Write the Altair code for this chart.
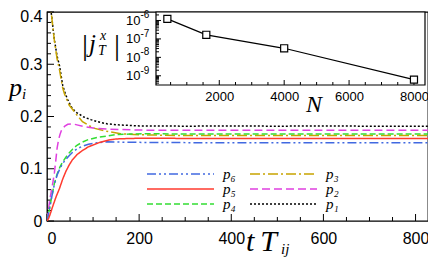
import altair as alt
import pandas as pd

# ---------------- data ----------------
t_p1 = [0, 4, 9, 16, 22, 27, 34, 40, 45, 55, 65, 80, 95, 110, 130, 155, 200, 300, 400, 500, 600, 700, 827]
v_p1 = [0.62, 0.50, 0.40, 0.347, 0.315, 0.298, 0.26, 0.243, 0.232, 0.215, 0.207, 0.199, 0.194, 0.19, 0.186, 0.184, 0.182, 0.1815, 0.1818, 0.1815, 0.1818, 0.1815, 0.1815]

t_p3 = [0, 4, 9, 16, 22, 27, 34, 38, 48, 63, 77, 100, 127, 160, 200, 300, 400, 500, 600, 700, 827]
v_p3 = [0.60, 0.49, 0.40, 0.345, 0.31, 0.29, 0.255, 0.243, 0.222, 0.205, 0.19, 0.178, 0.172, 0.167, 0.165, 0.1635, 0.1635, 0.1635, 0.1635, 0.1635, 0.1635]

t_p2 = [0, 3, 6, 10, 13, 16, 19, 22, 25, 28, 32, 38, 45, 55, 65, 80, 100, 130, 160, 200, 300, 400, 500, 600, 700, 827]
v_p2 = [0.0, 0.02, 0.04, 0.06, 0.075, 0.092, 0.115, 0.14, 0.155, 0.165, 0.175, 0.181, 0.185, 0.186, 0.184, 0.181, 0.178, 0.176, 0.175, 0.174, 0.1735, 0.1735, 0.1735, 0.1735, 0.1735, 0.1735]

t_p4 = [0, 3, 6, 10, 16, 22, 28, 34, 41, 48, 55, 65, 77, 90, 110, 134, 150, 180, 220, 300, 400, 500, 600, 700, 827]
v_p4 = [0.0, 0.012, 0.026, 0.045, 0.072, 0.09, 0.103, 0.113, 0.122, 0.13, 0.137, 0.145, 0.151, 0.156, 0.16, 0.163, 0.1655, 0.1665, 0.167, 0.1665, 0.1665, 0.1665, 0.1665, 0.1665, 0.1665]

t_p6 = [0, 3, 6, 10, 16, 22, 28, 34, 41, 48, 55, 65, 77, 90, 110, 130, 160, 200, 300, 400, 500, 600, 700, 827]
v_p6 = [0.0, 0.012, 0.026, 0.045, 0.07, 0.088, 0.1, 0.11, 0.118, 0.125, 0.131, 0.138, 0.143, 0.147, 0.15, 0.1515, 0.151, 0.1505, 0.150, 0.150, 0.150, 0.150, 0.150, 0.150]

t_p5 = [0, 4, 8, 12, 16, 20, 27, 34, 41, 48, 55, 65, 77, 90, 113, 134, 150, 180, 220, 300, 400, 500, 600, 700, 827]
v_p5 = [0.0, 0.006, 0.016, 0.027, 0.037, 0.047, 0.062, 0.08, 0.095, 0.107, 0.117, 0.127, 0.135, 0.142, 0.15, 0.155, 0.157, 0.158, 0.1585, 0.158, 0.158, 0.158, 0.158, 0.158, 0.158]

# legend order (column-major, 2 columns)
series_order = ["p₆", "p₅", "p₄", "p₃", "p₂", "p₁"]
series_colors = ["#4169e1", "#ff3b2f", "#33dd33", "#c8a400", "#e040e0", "#000000"]
series_dashes = [[9, 3, 2, 3, 2, 3], [1, 0], [6, 3], [10, 3, 2, 3], [8, 4], [2, 2]]

# inset data
N_vals = [400, 1600, 4000, 8000]
jT_vals = [1.23e-6, 1.67e-7, 3.1e-8, 6.2e-10]

# tick values
mx_major = [0, 200, 400, 600, 800]
mx_minor = [50, 100, 150, 250, 300, 350, 450, 500, 550, 650, 700, 750]
my_major = [0, 0.1, 0.2, 0.3, 0.4]
my_minor = [0.02, 0.04, 0.06, 0.08, 0.12, 0.14, 0.16, 0.18, 0.22, 0.24, 0.26, 0.28, 0.32, 0.34, 0.36, 0.38]
ix_major = [2000, 4000, 6000, 8000]
ix_minor = [500, 1000, 1500, 2500, 3000, 3500, 4500, 5000, 5500, 6500, 7000, 7500]
iy_major = [1e-6, 1e-7, 1e-8, 1e-9]
iy_exp = ["-6", "-7", "-8", "-9"]
iy_minor = [k * 10.0 ** e for e in (-10, -9, -8, -7, -6) for k in range(2, 10)
            if 10 ** -9.5 < k * 10.0 ** e < 10 ** -5.54]

rows = []
for name, ts, vs in [("p₁", t_p1, v_p1), ("p₃", t_p3, v_p3), ("p₂", t_p2, v_p2),
                     ("p₄", t_p4, v_p4), ("p₆", t_p6, v_p6), ("p₅", t_p5, v_p5)]:
    for t, v in zip(ts, vs):
        rows.append({"t": t, "p": v, "s": name})
df = pd.DataFrame(rows)

W, H = 381, 209
one = pd.DataFrame({"a": [0]})

# ---------------- main plot ----------------
xs = alt.Scale(domain=[0, 827], nice=False, zero=False)
ys = alt.Scale(domain=[0, 0.4], nice=False)

xaxis = alt.Axis(values=mx_major, ticks=False, domain=False, grid=False, title=None,
                 labelFont="Liberation Sans", labelFontSize=16, labelPadding=9,
                 labelColor="black", format="d")
yaxis = alt.Axis(values=my_major, ticks=False, domain=False, grid=False, title=None,
                 labelFont="Liberation Sans", labelFontSize=16, labelPadding=5,
                 labelColor="black",
                 labelExpr="datum.value == 0 ? '0' : format(datum.value, '.1f')",
                 labelOffset={"condition": {"test": "datum.value > 0.39", "value": 4}, "value": 0})

legend = alt.Legend(orient="none", legendX=99, legendY=155, columns=2, title=None,
                    symbolType="stroke", symbolSize=4489, symbolStrokeWidth=1.6,
                    clipHeight=14, rowPadding=-4, columnPadding=13, padding=0,
                    labelFont="Liberation Serif", labelFontStyle="italic",
                    labelFontSize=15, labelOffset=8, labelColor="black")

lines = alt.Chart(df).mark_line(clip=True, strokeWidth=1.5).encode(
    x=alt.X("t:Q", scale=xs, axis=xaxis),
    y=alt.Y("p:Q", scale=ys, axis=yaxis),
    color=alt.Color("s:N", scale=alt.Scale(domain=series_order, range=series_colors), legend=legend),
    strokeDash=alt.StrokeDash("s:N", scale=alt.Scale(domain=series_order, range=series_dashes), legend=legend),
)

def xticks(vals, scale, axis, y0, length):
    return alt.Chart(pd.DataFrame({"v": vals})).mark_rule(color="black", strokeWidth=1).encode(
        x=alt.X("v:Q", scale=scale, axis=axis), y=alt.value(y0), y2=alt.value(y0 - length))

def yticks(vals, scale, axis, x0, length):
    return alt.Chart(pd.DataFrame({"v": vals})).mark_rule(color="black", strokeWidth=1).encode(
        y=alt.Y("v:Q", scale=scale, axis=axis), x=alt.value(x0), x2=alt.value(x0 + length))

def txt(s, x, y, size, style="italic", align="left", font="Liberation Serif"):
    return alt.Chart(one).mark_text(text=s, fontSize=size, fontStyle=style, align=align,
                                    baseline="alphabetic", font=font, color="black").encode(
        x=alt.value(x), y=alt.value(y))

main = alt.layer(
    xticks(mx_major, xs, xaxis, H, 7), xticks(mx_minor, xs, xaxis, H, 4),
    yticks(my_major, ys, yaxis, 0, 7), yticks(my_minor, ys, yaxis, 0, 4),
    lines,
    txt("p", -38, 84, 26), txt("i", -25, 87, 15),
    txt("t\u2009T", 199, 239, 30), txt("ij", 234, 242, 15),
    txt("|", 38, 42.5, 30, style="normal", align="center"),
    txt("j", 42, 40, 25), txt("x", 53, 28, 14), txt("T", 51, 43, 14),
    txt("|", 70, 42.5, 30, style="normal", align="center"),
)

# ---------------- inset ----------------
ixs = alt.Scale(domain=[50, 8340], range=[109, 378], nice=False, zero=False)
iys = alt.Scale(type="log", domain=[10 ** -9.5, 10 ** -5.54], range=[73, 0], nice=False)

iaxis_x = alt.Axis(orient="bottom", offset=-(H - 73), values=ix_major, ticks=False, domain=False,
                   grid=False, title=None, labelFont="Liberation Sans", labelFontSize=13,
                   labelPadding=5, labelColor="black", zindex=2, format="d")
iaxis_y = alt.Axis(orient="left", offset=-109, values=iy_major, ticks=False, domain=False,
                   grid=False, title=None, labelFont="Liberation Sans", labelFontSize=13,
                   labelPadding=16, labelColor="black", labelExpr="'10'", zindex=2)

box = alt.Chart(pd.DataFrame({"x1": [50], "x2": [8340], "y1": [10 ** -9.5], "y2": [10 ** -5.54]})).mark_rect(
    fill="white", stroke="black", strokeWidth=1.2).encode(
    x=alt.X("x1:Q", scale=ixs, axis=iaxis_x), x2="x2:Q",
    y=alt.Y("y1:Q", scale=iys, axis=iaxis_y), y2="y2:Q")

idf = pd.DataFrame({"N": N_vals, "j": jT_vals})
iline = alt.Chart(idf).mark_line(color="black", strokeWidth=1.2).encode(
    x=alt.X("N:Q", scale=ixs, axis=iaxis_x), y=alt.Y("j:Q", scale=iys, axis=iaxis_y))
ipts = alt.Chart(idf).mark_square(size=50, fill="white", stroke="black", strokeWidth=1.2, opacity=1).encode(
    x=alt.X("N:Q", scale=ixs, axis=iaxis_x), y=alt.Y("j:Q", scale=iys, axis=iaxis_y))
iexp = alt.Chart(pd.DataFrame({"v": iy_major, "e": iy_exp})).mark_text(
    fontSize=10, align="left", baseline="middle", dy=-5, font="Liberation Sans", color="black").encode(
    y=alt.Y("v:Q", scale=iys, axis=iaxis_y), x=alt.value(93.5), text="e:N")

inset = alt.layer(
    box,
    xticks(ix_major, ixs, iaxis_x, 73, 5), xticks(ix_minor, ixs, iaxis_x, 73, 3),
    yticks(iy_major, iys, iaxis_y, 109, 5), yticks(iy_minor, iys, iaxis_y, 109, 3),
    iline, ipts, iexp,
    txt("N", 267, 99.5, 24, align="center"),
)

chart = alt.layer(main, inset).resolve_scale(x="independent", y="independent").properties(
    width=W, height=H,
    autosize=alt.AutoSizeParams(type="none"),
    padding={"left": 39, "top": 4, "right": 0, "bottom": 39},
    background="white",
).configure_view(stroke="black", strokeWidth=1.3)

chart.save("out.html", embed_options={"renderer": "svg", "actions": False})
